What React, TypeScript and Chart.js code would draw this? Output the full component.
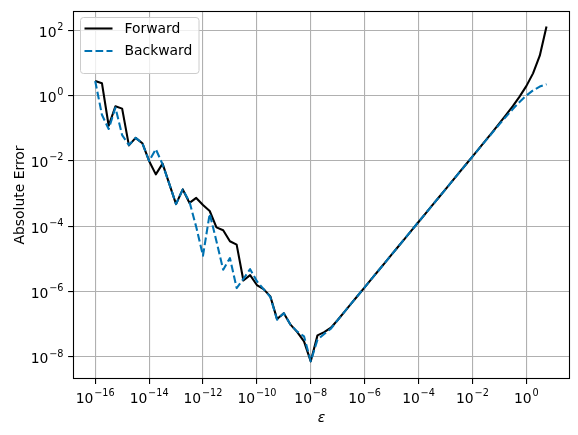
import React, { useEffect, useRef } from "react";
import { Chart, registerables } from "chart.js";

Chart.register(...registerables);

// step sizes epsilon (10^(-16 + k/4))
const EPS = [
  1e-16, 1.778e-16, 3.162e-16, 5.623e-16,
  1e-15, 1.778e-15, 3.162e-15, 5.623e-15,
  1e-14, 1.778e-14, 3.162e-14, 5.623e-14,
  1e-13, 1.778e-13, 3.162e-13, 5.623e-13,
  1e-12, 1.778e-12, 3.162e-12, 5.623e-12,
  1e-11, 1.778e-11, 3.162e-11, 5.623e-11,
  1e-10, 1.778e-10, 3.162e-10, 5.623e-10,
  1e-9, 1.778e-9, 3.162e-9, 5.623e-9,
  1e-8, 1.778e-8, 3.162e-8, 5.623e-8,
  1e-7, 1.778e-7, 3.162e-7, 5.623e-7,
  1e-6, 1.778e-6, 3.162e-6, 5.623e-6,
  1e-5, 1.778e-5, 3.162e-5, 5.623e-5,
  1e-4, 1.778e-4, 3.162e-4, 5.623e-4,
  1e-3, 1.778e-3, 3.162e-3, 5.623e-3,
  1e-2, 1.778e-2, 3.162e-2, 5.623e-2,
  1e-1, 1.778e-1, 3.162e-1, 5.623e-1,
  1, 1.778, 3.162, 5.623,
];

const FORWARD = [
  2.8, 2.4, 0.12, 0.47, 0.40, 0.030, 0.051, 0.035,
  0.010, 0.0039, 0.0083, 0.0020, 4.8e-4, 1.35e-3, 5.2e-4, 7.4e-4,
  4.5e-4, 2.95e-4, 9.3e-5, 7.6e-5, 3.5e-5, 2.75e-5, 2.2e-6, 3.2e-6,
  1.6e-6, 1.2e-6, 7.2e-7, 1.45e-7, 2.2e-7, 9.8e-8, 5.8e-8, 3.0e-8,
  7.4e-9, 4.6e-8, 5.8e-8, 7.9e-8, 1.36e-7, 2.42e-7, 4.30e-7, 7.64e-7,
  1.36e-6, 2.42e-6, 4.30e-6, 7.64e-6, 1.36e-5, 2.42e-5, 4.30e-5, 7.64e-5,
  1.36e-4, 2.42e-4, 4.30e-4, 7.64e-4, 1.36e-3, 2.42e-3, 4.30e-3, 7.65e-3,
  0.01364, 0.02431, 0.04344, 0.07789, 0.1406, 0.2567, 0.4790, 0.9302,
  1.952, 4.802, 16.73, 130.6,
];

const BACKWARD = [
  2.8, 0.26, 0.095, 0.43, 0.062, 0.031, 0.051, 0.035,
  0.010, 0.023, 0.0079, 0.0020, 4.8e-4, 1.35e-3, 5.6e-4, 9.5e-5,
  1.26e-5, 2.45e-4, 3.5e-5, 4.7e-6, 1.07e-5, 1.29e-6, 2.45e-6, 4.9e-6,
  2.1e-6, 1.2e-6, 6.9e-7, 1.38e-7, 2.2e-7, 9.8e-8, 6.0e-8, 4.3e-8,
  7.4e-9, 3.4e-8, 5.1e-8, 7.4e-8, 1.35e-7, 2.41e-7, 4.29e-7, 7.63e-7,
  1.36e-6, 2.42e-6, 4.30e-6, 7.64e-6, 1.36e-5, 2.42e-5, 4.30e-5, 7.64e-5,
  1.36e-4, 2.42e-4, 4.30e-4, 7.63e-4, 1.36e-3, 2.41e-3, 4.29e-3, 7.61e-3,
  0.01355, 0.02402, 0.04253, 0.07502, 0.1315, 0.2281, 0.3878, 0.6391,
  1.000, 1.448, 1.895, 2.237,
];

const X_TICK_EXPS = [-16, -14, -12, -10, -8, -6, -4, -2, 0];
const Y_TICK_EXPS = [-8, -6, -4, -2, 0, 2];

const X_LABEL = "ε";
const Y_LABEL = "Absolute Error";
const SERIES_NAMES = ["Forward", "Backward"];
const BLUE = "#0072B2";
const FONT = '"DejaVu Sans", sans-serif';
const FS = 13.9;
const FS_EXP = 9.7;

function expText(e: number) {
  return e < 0 ? "\u2212" + String(-e) : String(e);
}

function drawPow(ctx: CanvasRenderingContext2D, e: number, x: number, baseline: number, mode: "center" | "right") {
  ctx.save();
  ctx.fillStyle = "#000";
  ctx.textBaseline = "alphabetic";
  ctx.textAlign = "left";
  ctx.font = `${FS}px ${FONT}`;
  const w10 = ctx.measureText("10").width;
  ctx.font = `${FS_EXP}px ${FONT}`;
  const es = expText(e);
  const we = ctx.measureText(es).width;
  const gap = 0.8;
  const total = w10 + gap + we;
  const start = mode === "center" ? x - total / 2 : x - total;
  ctx.font = `${FS}px ${FONT}`;
  ctx.fillText("10", start, baseline);
  ctx.font = `${FS_EXP}px ${FONT}`;
  ctx.fillText(es, start + w10 + gap, baseline - 6.8);
  ctx.restore();
}

const decorPlugin = {
  id: "decor",
  afterDraw(chart: any) {
    const ctx: CanvasRenderingContext2D = chart.ctx;
    const a = chart.chartArea;
    const xs = chart.scales.x;
    const ys = chart.scales.y;

    // frame
    ctx.save();
    ctx.strokeStyle = "#000";
    ctx.lineWidth = 1.1;
    ctx.strokeRect(Math.round(a.left) + 0.5, Math.round(a.top) + 0.5, Math.round(a.right - a.left) - 1, Math.round(a.bottom - a.top) - 1);
    ctx.restore();

    // tick labels
    X_TICK_EXPS.forEach((e) => {
      const px = xs.getPixelForValue(Math.pow(10, e));
      drawPow(ctx, e, px, a.bottom + 23.5, "center");
    });
    Y_TICK_EXPS.forEach((e) => {
      const py = ys.getPixelForValue(Math.pow(10, e));
      drawPow(ctx, e, a.left - 9.5, py + 6.3, "right");
    });

    // axis titles
    ctx.save();
    ctx.fillStyle = "#000";
    ctx.font = `italic ${FS}px ${FONT}`;
    ctx.textAlign = "center";
    ctx.textBaseline = "alphabetic";
    ctx.fillText(X_LABEL, (a.left + a.right) / 2, 421.5);
    ctx.translate(23.5, (a.top + a.bottom) / 2);
    ctx.rotate(-Math.PI / 2);
    ctx.font = `${FS}px ${FONT}`;
    ctx.fillText(Y_LABEL, 0, 0);
    ctx.restore();

    // legend
    ctx.save();
    const lx = 80.5, ly = 17.5, lw = 118.5, lh = 56, r = 3;
    ctx.beginPath();
    ctx.moveTo(lx + r, ly);
    ctx.lineTo(lx + lw - r, ly);
    ctx.quadraticCurveTo(lx + lw, ly, lx + lw, ly + r);
    ctx.lineTo(lx + lw, ly + lh - r);
    ctx.quadraticCurveTo(lx + lw, ly + lh, lx + lw - r, ly + lh);
    ctx.lineTo(lx + r, ly + lh);
    ctx.quadraticCurveTo(lx, ly + lh, lx, ly + lh - r);
    ctx.lineTo(lx, ly + r);
    ctx.quadraticCurveTo(lx, ly, lx + r, ly);
    ctx.closePath();
    ctx.fillStyle = "rgba(255,255,255,0.8)";
    ctx.fill();
    ctx.strokeStyle = "#cccccc";
    ctx.lineWidth = 1;
    ctx.stroke();

    const rows = [
      { y: 28.5, color: "#000", dash: [] as number[] },
      { y: 51, color: BLUE, dash: [7.7, 3.3] },
    ];
    rows.forEach((row, i) => {
      ctx.beginPath();
      ctx.setLineDash(row.dash);
      ctx.strokeStyle = row.color;
      ctx.lineWidth = 2.08;
      ctx.moveTo(84.5, row.y);
      ctx.lineTo(112.5, row.y);
      ctx.stroke();
      ctx.setLineDash([]);
      ctx.fillStyle = "#000";
      ctx.font = `${FS}px ${FONT}`;
      ctx.textAlign = "left";
      ctx.textBaseline = "middle";
      ctx.fillText(SERIES_NAMES[i], 124.5, row.y + 0.5);
    });
    ctx.restore();
  },
};

export default function App() {
  const ref = useRef<HTMLCanvasElement | null>(null);

  useEffect(() => {
    document.body.style.margin = "0";
    const canvas = ref.current;
    if (!canvas) return;
    const gridCommon = {
      color: "#b0b0b0",
      lineWidth: 1.1,
      tickColor: "#000",
      tickLength: 4.9,
      drawTicks: true,
    };
    const chart = new Chart(canvas, {
      type: "line",
      data: {
        datasets: [
          {
            label: SERIES_NAMES[1],
            data: EPS.map((x, i) => ({ x, y: BACKWARD[i] })),
            borderColor: BLUE,
            borderWidth: 2.08,
            borderDash: [7.7, 3.3],
            pointRadius: 0,
            fill: false,
            tension: 0,
            borderJoinStyle: "round",
          },
          {
            label: SERIES_NAMES[0],
            data: EPS.map((x, i) => ({ x, y: FORWARD[i] })),
            borderColor: "#000",
            borderWidth: 2.08,
            pointRadius: 0,
            fill: false,
            tension: 0,
            borderJoinStyle: "round",
          },
        ],
      },
      options: {
        animation: false,
        responsive: false,
        devicePixelRatio: 1,
        layout: { padding: { left: 0, right: 8, top: 11, bottom: 0 } },
        plugins: { legend: { display: false }, tooltip: { enabled: false } },
        scales: {
          x: {
            type: "logarithmic",
            min: Math.pow(10, -16.824),
            max: Math.pow(10, 1.622),
            afterBuildTicks: (s: any) => {
              s.ticks = X_TICK_EXPS.map((e) => ({ value: Math.pow(10, e) }));
            },
            afterFit: (s: any) => {
              s.height = 56;
            },
            ticks: { display: false },
            grid: gridCommon,
            border: { display: false },
          },
          y: {
            type: "logarithmic",
            min: Math.pow(10, -8.672),
            max: Math.pow(10, 2.59),
            afterBuildTicks: (s: any) => {
              s.ticks = Y_TICK_EXPS.map((e) => ({ value: Math.pow(10, e) }));
            },
            afterFit: (s: any) => {
              s.width = 73;
            },
            ticks: { display: false },
            grid: gridCommon,
            border: { display: false },
          },
        },
      } as any,
      plugins: [decorPlugin],
    });
    return () => chart.destroy();
  }, []);

  return (
    <div style={{ width: 578, height: 435 }}>
      <canvas ref={ref} width={578} height={435} style={{ display: "block" }} />
    </div>
  );
}
